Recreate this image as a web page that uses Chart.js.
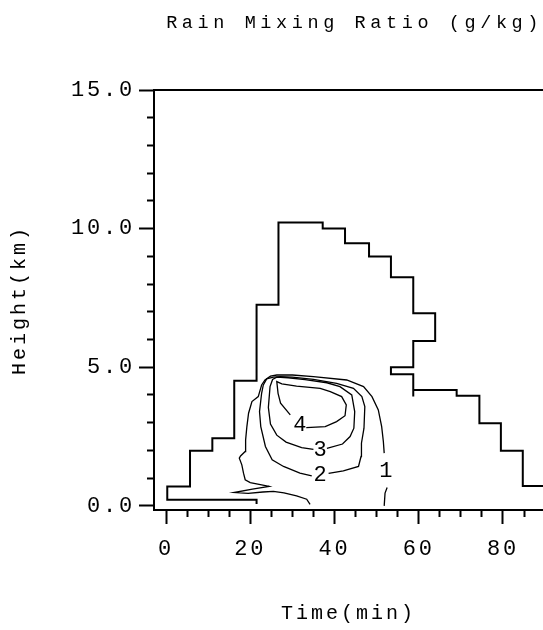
<!DOCTYPE html>
<html><head><meta charset="utf-8">
<script src="https://cdn.jsdelivr.net/npm/chart.js@4/dist/chart.umd.min.js"></script>
<style>html,body{margin:0;padding:0;background:#fff;overflow:hidden}</style>
</head><body>
<canvas id="c" width="543" height="630"></canvas>
<script>
const FONT = "'Liberation Mono', 'DejaVu Sans Mono', monospace";
const chartTitle = 'Rain Mixing Ratio (g/kg)';
const xTitle = 'Time(min)';
const yTitle = 'Height(km)';
const xTickLabels = [0, 20, 40, 60, 80];
const yTickLabels = [0, 5, 10, 15];

// stepped cloud outline (time min, height km)
const outlineT = [21.5,21.5,0.3,0.3,5.7,5.7,11.0,11.0,16.2,16.2,21.5,21.5,26.7,26.7,37.2,37.2,42.5,42.5,48.2,48.2,53.4,53.4,58.7,58.7,63.9,63.9,58.7,58.7,53.4,53.4,58.7,58.7,58.7,69.0,69.0,74.4,74.4,79.5,79.5,84.7,84.7,92];
const outlineH = [0.07,0.22,0.22,0.70,0.70,1.99,1.99,2.44,2.44,4.51,4.51,7.25,7.25,10.22,10.22,10.0,10.0,9.47,9.47,8.99,8.99,8.25,8.25,6.95,6.95,5.95,5.95,5.0,5.0,4.75,4.75,3.94,4.18,4.18,3.97,3.97,2.98,2.98,1.99,1.99,0.72,0.72];

// contour 1 g/kg
const c1T = [34.2,33.4,31.0,28.0,25.5,23.0,19.5,16.2,20.5,24.5,22.7,20.0,18.8,18.4,18.0,17.4,17.7,18.8,18.9,19.2,19.6,20.4,21.9,22.7,23.5,24.8,26.3,30.0,35.0,42.9,46.9,48.9,50.4,51.2,51.6,51.8,null,52.5,52.0,51.8];
const c1H = [0.05,0.24,0.36,0.47,0.52,0.50,0.45,0.48,0.60,0.70,0.76,0.84,0.94,1.18,1.48,1.72,1.80,1.96,2.38,2.86,3.34,3.76,3.94,4.36,4.54,4.68,4.72,4.72,4.66,4.54,4.30,3.94,3.46,2.86,2.32,1.90,null,0.66,0.46,0.0];
// contour 2 g/kg
const c2T = [38.6,42.1,45.7,46.3,46.4,47.0,47.2,46.5,44.5,40.5,35.0,30.0,27.1,25.5,23.9,23.1,22.7,22.2,22.5,23.6,25.2,27.9,31.8,34.6];
const c2H = [1.17,1.26,1.42,1.78,2.26,2.80,3.58,3.94,4.24,4.42,4.56,4.64,4.66,4.64,4.58,4.36,4.06,3.40,2.86,2.14,1.66,1.42,1.18,1.08];
// contour 3 g/kg
const c3T = [38.2,41.9,43.7,44.6,44.8,44.1,41.3,38.2,33.0,29.0,26.3,25.3,24.7,24.3,24.8,26.3,28.5,32.2,35.0];
const c3H = [2.07,2.23,2.50,2.80,3.40,4.00,4.30,4.44,4.55,4.62,4.64,4.56,4.30,3.55,2.95,2.55,2.30,2.10,2.04];
// contour 4 g/kg
const c4T = [33.3,37.8,40.5,42.5,42.8,41.7,39.0,36.6,31.0,27.5,26.3,26.6,27.2,29.5];
const c4H = [2.82,2.86,3.04,3.25,3.64,3.94,4.12,4.24,4.32,4.40,4.48,4.06,3.70,3.28];

// contour labels
const labelText = ['1', '2', '3', '4'];
const labelT = [52.2, 36.6, 36.6, 31.8];
const labelH = [1.24, 1.12, 2.02, 2.92];

function pts(T, H) {
  return T.map((t, i) => ({ x: t, y: H[i] }));
}
function lineDs(T, H, w) {
  return { data: pts(T, H), showLine: true, borderColor: '#000', borderWidth: w,
           pointRadius: 0, pointHoverRadius: 0, tension: 0, spanGaps: false, fill: false };
}

const spacingPlugin = {
  id: 'spacing',
  beforeDraw(chart) {
    const wrap = (obj, method, ls) => {
      if (!obj || obj['__w_' + method]) return;
      const orig = obj[method];
      obj[method] = function (...args) {
        const c = chart.ctx; c.save(); c.letterSpacing = ls; orig.apply(this, args); c.restore();
      };
      obj['__w_' + method] = true;
    };
    wrap(chart.titleBlock, 'draw', '4.6px');
    wrap(chart.scales.x, 'drawLabels', '2.8px');
    wrap(chart.scales.y, 'drawLabels', '2.8px');
    wrap(chart.scales.x, 'drawTitle', '3px');
    wrap(chart.scales.y, 'drawTitle', '3px');
  }
};

const contourLabels = {
  id: 'contourLabels',
  afterDatasetsDraw(chart) {
    const { ctx, scales: { x, y } } = chart;
    ctx.save();
    ctx.font = '22px ' + FONT;
    ctx.fillStyle = '#000';
    ctx.textAlign = 'center';
    ctx.textBaseline = 'middle';
    labelText.forEach((s, i) => ctx.fillText(s, x.getPixelForValue(labelT[i]), y.getPixelForValue(labelH[i])));
    ctx.restore();
  }
};

const XMIN = -2.85, XMAX = 89.5;

new Chart(document.getElementById('c'), {
  type: 'scatter',
  data: { datasets: [
    lineDs(outlineT, outlineH, 2),
    lineDs(c1T, c1H, 1.3),
    lineDs(c2T, c2H, 1.3),
    lineDs(c3T, c3H, 1.3),
    lineDs(c4T, c4H, 1.3)
  ] },
  options: {
    responsive: false,
    animation: false,
    events: [],
    layout: { padding: 0 },
    plugins: {
      legend: { display: false },
      tooltip: { enabled: false },
      title: {
        display: true, text: chartTitle, align: 'end', color: '#000',
        font: { family: FONT, size: 18.5, weight: 'normal' },
        padding: { top: 12, bottom: 55.8 }
      }
    },
    scales: {
      x: {
        type: 'linear', position: 'bottom', min: XMIN, max: XMAX,
        afterFit: s => { s.height = 120; },
        border: { display: true, color: '#000', width: 2 },
        grid: {
          display: true, drawOnChartArea: false, drawTicks: true, tickLength: 14,
          tickWidth: 2, tickColor: '#000',
          tickBorderDash: c => (c.tick && c.tick.value % 20 === 0) ? [] : [6, 100]
        },
        ticks: {
          stepSize: 5, includeBounds: false, autoSkip: false, maxRotation: 0, minRotation: 0,
          padding: 12, color: '#000', font: { family: FONT, size: 22 },
          callback: v => xTickLabels.includes(v) ? String(v) : ''
        },
        title: { display: true, text: xTitle, color: '#000', font: { family: FONT, size: 20 },
                 padding: { top: 0, bottom: 4 } }
      },
      x2: {
        type: 'linear', position: 'top', min: XMIN, max: XMAX,
        afterFit: s => { s.height = 0; },
        border: { display: true, color: '#000', width: 2 },
        grid: { display: false, drawTicks: false },
        ticks: { display: false }
      },
      y: {
        type: 'linear', position: 'left', min: -0.15, max: 15,
        afterFit: s => { s.width = 154; },
        border: { display: true, color: '#000', width: 2 },
        grid: {
          display: true, drawOnChartArea: false, drawTicks: true, tickLength: 15,
          tickWidth: 2, tickColor: '#000',
          tickBorderDash: c => (c.tick && c.tick.value % 5 === 0) ? [] : [0, 8, 7, 100]
        },
        ticks: {
          stepSize: 1, includeBounds: false, autoSkip: false, padding: 4,
          color: '#000', font: { family: FONT, size: 22 },
          callback: v => yTickLabels.includes(v) ? v.toFixed(1) : ''
        },
        title: { display: true, text: yTitle, color: '#000', font: { family: FONT, size: 20 },
                 padding: { top: 8, bottom: 0 } }
      }
    }
  },
  plugins: [spacingPlugin, contourLabels]
});
</script>
</body></html>
